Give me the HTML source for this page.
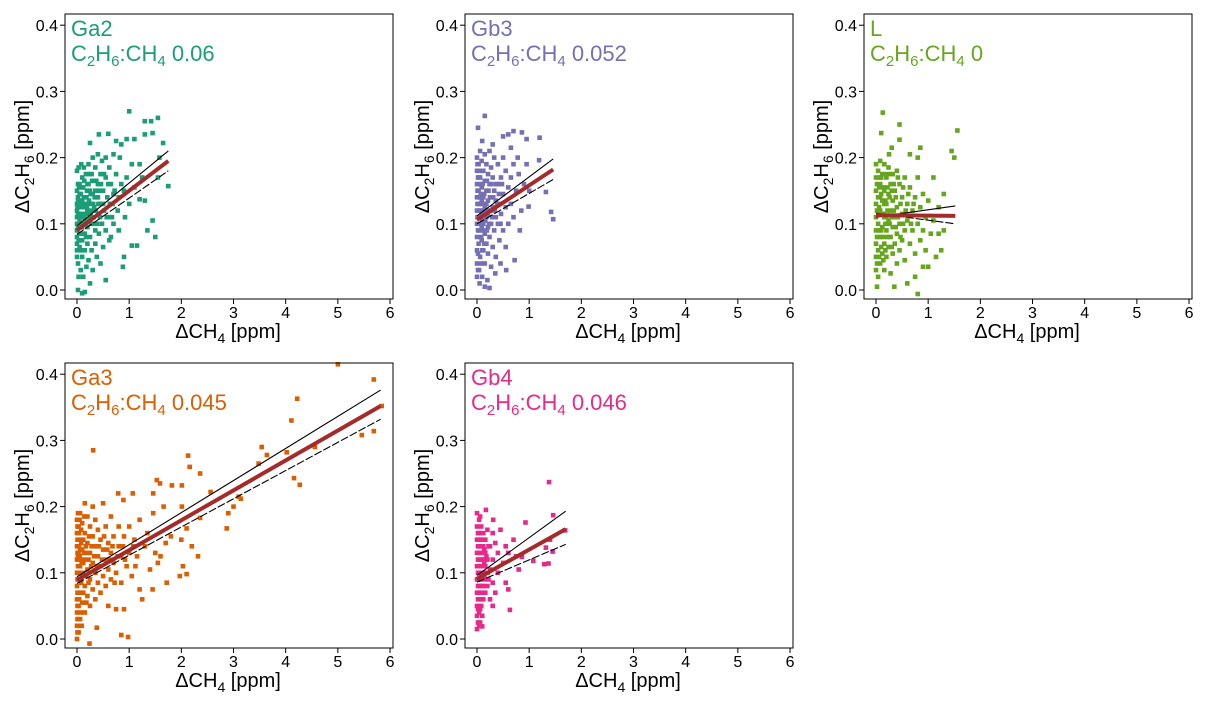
<!DOCTYPE html>
<html><head><meta charset="utf-8">
<style>
html,body{margin:0;padding:0;background:#fff;}
svg text{font-family:"Liberation Sans",Arial,sans-serif;}
</style></head>
<body>
<svg id="chart" width="1205" height="706" viewBox="0 0 1205 706" xmlns="http://www.w3.org/2000/svg"></svg>
<script>
const panelNames = ["Ga2","Gb3","L","Ga3","Gb4"];
const panelRatios = ["0.06","0.052","0","0.045","0.046"];
const panelColors = ["#1b9e77","#7570b3","#66a61e","#d95f02","#e7298a"];
const xTicks = [0,1,2,3,4,5,6];
const yTicks = [0.0,0.1,0.2,0.3,0.4];
const yTickLabels = ["0.0","0.1","0.2","0.3","0.4"];
// fit lines: [xEnd, fitStart, fitEnd, upStart, upEnd, loStart, loEnd]
const fitGa2 = [1.75,0.09,0.195,0.097,0.21,0.084,0.18];
const fitGb3 = [1.46,0.106,0.182,0.112,0.198,0.100,0.167];
const fitL = [1.52,0.113,0.112,0.110,0.127,0.116,0.100];
const fitGa3 = [5.82,0.089,0.352,0.094,0.376,0.084,0.332];
const fitGb4 = [1.7,0.091,0.166,0.096,0.193,0.086,0.143];
const ptsGa2 = [[0,0.18],[0,0.15],[0,0.13],[0,0.12],[0,0.11],[0,0.1],[0,0.09],[0,0.08],[0,0.07],[0,0.06],[0,0.05],[0.02,0.14],[0.02,0.04],[0.03,0.02],[0.03,0.185],[0.05,0.16],[0.05,0.125],[0.05,0.105],[0.05,0.085],[0.05,0.065],[0.07,0.145],[0.07,0.03],[0.08,0.19],[0.1,0.17],[0.1,0.135],[0.1,0.115],[0.1,0.095],[0.1,0.075],[0.1,0.05],[0.12,0.155],[0.12,0.02],[0.13,0.185],[0.15,0.125],[0.15,0.105],[0.15,0.085],[0.15,0.06],[0.17,0.175],[0.18,0.14],[0.18,0.035],[0.2,0.16],[0.2,0.12],[0.2,0.095],[0.2,0.07],[0.22,0.19],[0.22,0.045],[0.25,0.222],[0.25,0.15],[0.25,0.13],[0.25,0.11],[0.25,0.08],[0.28,0.175],[0.28,0.06],[0.3,0.2],[0.3,0.145],[0.3,0.1],[0.3,0.03],[0.33,0.165],[0.33,0.125],[0.35,0.185],[0.35,0.09],[0.35,0.07],[0.38,0.14],[0.38,0.05],[0.4,0.205],[0.4,0.16],[0.4,0.115],[0.42,0.235],[0.42,0.085],[0.45,0.175],[0.45,0.13],[0.45,0.04],[0.48,0.195],[0.48,0.1],[0.5,0.15],[0.5,0.065],[0.52,0.12],[0.55,0.2],[0.55,0.17],[0.55,0.09],[0.55,0.015],[0.58,0.14],[0.6,0.236],[0.6,0.11],[0.62,0.185],[0.62,0.075],[0.65,0.16],[0.65,0.08],[0.68,0.13],[0.7,0.205],[0.7,0.1],[0.72,0.15],[0.75,0.225],[0.75,0.175],[0.78,0.12],[0.8,0.09],[0.8,0.14],[0.82,0.2],[0.85,0.22],[0.85,0.16],[0.88,0.035],[0.9,0.05],[0.9,0.15],[0.92,0.11],[0.95,0.228],[0.95,0.17],[1.0,0.27],[1.0,0.13],[1.05,0.19],[1.05,0.067],[1.1,0.228],[1.1,0.155],[1.15,0.067],[1.2,0.19],[1.2,0.137],[1.25,0.17],[1.3,0.255],[1.3,0.235],[1.3,0.135],[1.35,0.09],[1.42,0.255],[1.45,0.237],[1.45,0.105],[1.5,0.08],[1.55,0.26],[1.55,0.17],[1.58,0.2],[1.65,0.222],[1.75,0.157],[0.1,-0.005],[0.15,-0.003],[0.02,0.0],[0.25,0.01],[0.03,0.1],[0.08,0.11],[0.13,0.1],[0.18,0.115],[0.23,0.135],[0.28,0.12],[0.08,0.13],[0.13,0.14],[0.35,0.15],[0.4,0.14],[0.22,0.16],[0.05,0.145],[0.03,0.075]];
const extraGa2 = [[0.02,0.115],[0.02,0.095],[0.02,0.135],[0.04,0.155],[0.06,0.115],[0.06,0.095],[0.07,0.125],[0.09,0.155],[0.11,0.125],[0.14,0.165],[0.16,0.13],[0.17,0.1],[0.19,0.15],[0.21,0.13],[0.23,0.105],[0.24,0.175],[0.26,0.145],[0.27,0.1],[0.29,0.165],[0.31,0.13],[0.32,0.11],[0.34,0.14],[0.36,0.12],[0.37,0.165],[0.39,0.1],[0.41,0.13],[0.43,0.15],[0.44,0.11],[0.46,0.16],[0.5,0.13],[0.52,0.175],[0.57,0.11],[0.6,0.16],[0.63,0.13],[0.67,0.11],[0.7,0.145],[0.02,0.16],[0.04,0.075],[0.07,0.06],[0.12,0.085],[0.17,0.08],[0.01,0.125],[0.09,0.1],[0.14,0.11],[0.19,0.125],[0.26,0.115]];
const ptsGb3 = [[0.15,0.263],[0.02,0.245],[0.7,0.24],[0.86,0.238],[1.2,0.23],[0.95,0.228],[0.5,0.232],[0.6,0.235],[0.1,0.225],[0.3,0.22],[0.65,0.215],[1.19,0.196],[1.32,0.148],[1.42,0.118],[1.46,0.107],[0.99,0.126],[0.82,0.09],[0.72,0.045],[0.56,0.03],[0.24,0.003],[0.05,0.01],[0.1,0.02],[0.15,0.005],[0.2,0.015],[0.02,0.03],[0.08,0.04],[0.0,0.06],[0.0,0.08],[0.0,0.1],[0.0,0.12],[0.0,0.14],[0.0,0.16],[0.0,0.18],[0.0,0.2],[0.03,0.07],[0.03,0.11],[0.03,0.15],[0.03,0.19],[0.06,0.05],[0.06,0.09],[0.06,0.13],[0.06,0.17],[0.06,0.21],[0.09,0.075],[0.09,0.115],[0.09,0.155],[0.09,0.195],[0.12,0.06],[0.12,0.1],[0.12,0.14],[0.12,0.18],[0.15,0.04],[0.15,0.085],[0.15,0.125],[0.15,0.165],[0.15,0.205],[0.18,0.07],[0.18,0.11],[0.18,0.15],[0.18,0.19],[0.21,0.055],[0.21,0.095],[0.21,0.135],[0.21,0.175],[0.24,0.08],[0.24,0.12],[0.24,0.16],[0.24,0.21],[0.27,0.035],[0.27,0.1],[0.27,0.14],[0.27,0.185],[0.3,0.065],[0.3,0.125],[0.3,0.17],[0.33,0.09],[0.33,0.15],[0.33,0.2],[0.36,0.11],[0.36,0.135],[0.36,0.05],[0.4,0.16],[0.4,0.1],[0.4,0.19],[0.43,0.13],[0.43,0.075],[0.46,0.17],[0.46,0.115],[0.5,0.145],[0.5,0.09],[0.5,0.2],[0.55,0.125],[0.55,0.18],[0.6,0.155],[0.6,0.1],[0.65,0.17],[0.65,0.13],[0.7,0.19],[0.7,0.11],[0.75,0.15],[0.78,0.2],[0.8,0.175],[0.85,0.12],[0.9,0.16],[0.95,0.19],[1.0,0.15],[0.55,0.065],[0.45,0.04],[0.35,0.025],[0.0,0.04],[0.0,0.02],[0.03,0.13],[0.06,0.11],[0.09,0.135],[0.12,0.12],[0.03,0.09],[0.09,0.095],[0.18,0.13],[0.21,0.115],[0.04,0.17]];
const extraGb3 = [[0.01,0.11],[0.01,0.13],[0.01,0.15],[0.02,0.09],[0.02,0.17],[0.04,0.12],[0.04,0.14],[0.05,0.1],[0.05,0.16],[0.07,0.12],[0.07,0.145],[0.08,0.08],[0.08,0.18],[0.1,0.105],[0.1,0.13],[0.11,0.16],[0.13,0.115],[0.13,0.09],[0.14,0.145],[0.16,0.105],[0.17,0.13],[0.19,0.165],[0.2,0.12],[0.22,0.15],[0.23,0.1],[0.25,0.14],[0.26,0.12],[0.28,0.16],[0.29,0.11],[0.31,0.14],[0.34,0.12],[0.37,0.16],[0.39,0.13],[0.42,0.145],[0.45,0.1],[0.48,0.16],[0.02,0.055],[0.04,0.03],[0.1,0.06],[0.14,0.07],[0.19,0.09],[0.01,0.19]];
const ptsL = [[0.13,0.268],[0.45,0.25],[0.1,0.237],[1.56,0.241],[0.45,0.227],[0.3,0.215],[1.5,0.2],[0.85,0.215],[0.65,0.205],[0.8,0.2],[0.25,0.205],[0.0,0.19],[0.0,0.17],[0.0,0.15],[0.0,0.13],[0.0,0.11],[0.0,0.09],[0.0,0.07],[0.0,0.05],[0.0,0.03],[0.8,-0.006],[0.02,0.005],[0.35,0.005],[0.6,0.01],[0.75,0.02],[1.0,0.035],[0.9,0.035],[0.04,0.18],[0.04,0.14],[0.04,0.1],[0.04,0.06],[0.08,0.195],[0.08,0.16],[0.08,0.12],[0.08,0.08],[0.08,0.04],[0.12,0.175],[0.12,0.135],[0.12,0.095],[0.12,0.055],[0.16,0.19],[0.16,0.15],[0.16,0.11],[0.16,0.07],[0.16,0.03],[0.2,0.17],[0.2,0.13],[0.2,0.09],[0.2,0.05],[0.24,0.185],[0.24,0.145],[0.24,0.105],[0.24,0.065],[0.28,0.16],[0.28,0.12],[0.28,0.08],[0.28,0.025],[0.32,0.175],[0.32,0.135],[0.32,0.095],[0.32,0.055],[0.36,0.15],[0.36,0.11],[0.36,0.07],[0.4,0.18],[0.4,0.125],[0.4,0.085],[0.4,0.04],[0.45,0.16],[0.45,0.1],[0.45,0.06],[0.5,0.14],[0.5,0.115],[0.5,0.075],[0.55,0.17],[0.55,0.09],[0.55,0.045],[0.6,0.13],[0.6,0.105],[0.65,0.155],[0.65,0.07],[0.7,0.12],[0.7,0.09],[0.75,0.14],[0.75,0.055],[0.8,0.17],[0.8,0.1],[0.85,0.125],[0.85,0.075],[0.9,0.145],[0.9,0.09],[0.95,0.11],[0.95,0.06],[1.0,0.135],[1.05,0.085],[1.1,0.17],[1.1,0.105],[1.15,0.05],[1.2,0.125],[1.2,0.085],[1.25,0.06],[1.3,0.145],[1.3,0.09],[1.45,0.21],[0.06,0.125],[0.1,0.145],[0.14,0.115],[0.18,0.1],[0.22,0.12],[0.26,0.14],[0.1,0.09],[0.14,0.08],[0.06,0.155]];
const extraL = [[0.02,0.16],[0.02,0.12],[0.02,0.08],[0.06,0.17],[0.06,0.09],[0.06,0.05],[0.1,0.115],[0.1,0.065],[0.1,0.17],[0.14,0.155],[0.14,0.045],[0.18,0.135],[0.18,0.06],[0.18,0.175],[0.22,0.155],[0.22,0.08],[0.26,0.1],[0.26,0.175],[0.3,0.15],[0.3,0.11],[0.3,0.065],[0.34,0.12],[0.34,0.16],[0.38,0.095],[0.38,0.14],[0.42,0.11],[0.42,0.17],[0.47,0.13],[0.47,0.08],[0.52,0.155],[0.52,0.1],[0.57,0.12],[0.62,0.145],[0.67,0.1],[0.72,0.13],[0.04,0.12],[0.08,0.14],[0.12,0.115],[0.16,0.13],[0.2,0.11],[0.02,0.04],[0.04,0.02]];
const ptsGa3 = [[5.0,0.415],[5.69,0.392],[4.22,0.363],[4.11,0.33],[5.46,0.308],[5.69,0.314],[5.84,0.352],[0.31,0.285],[3.54,0.29],[3.64,0.278],[3.48,0.265],[4.02,0.282],[4.56,0.29],[4.16,0.243],[4.27,0.233],[2.13,0.277],[2.16,0.26],[2.36,0.25],[1.53,0.24],[1.59,0.235],[1.82,0.232],[2.01,0.232],[2.56,0.222],[0.79,0.22],[1.07,0.22],[1.46,0.22],[0.89,0.21],[1.66,0.2],[2.01,0.2],[1.46,0.19],[2.9,0.19],[3.0,0.2],[2.87,0.167],[2.1,0.167],[2.0,0.15],[2.2,0.14],[2.32,0.125],[2.03,0.11],[1.97,0.095],[2.1,0.098],[1.72,0.085],[3.1,0.215],[3.14,0.212],[2.36,0.183],[0.98,0.003],[0.85,0.006],[0.24,-0.007],[0.38,0.017],[0,0.0],[0,0.02],[0,0.04],[0,0.06],[0,0.08],[0,0.1],[0,0.12],[0,0.14],[0,0.16],[0,0.18],[0.03,0.01],[0.03,0.05],[0.03,0.09],[0.03,0.13],[0.03,0.17],[0.06,0.03],[0.06,0.07],[0.06,0.11],[0.06,0.15],[0.06,0.19],[0.1,0.055],[0.1,0.095],[0.1,0.135],[0.1,0.175],[0.15,0.04],[0.15,0.08],[0.15,0.12],[0.15,0.16],[0.15,0.205],[0.2,0.065],[0.2,0.105],[0.2,0.145],[0.2,0.185],[0.25,0.05],[0.25,0.09],[0.25,0.13],[0.25,0.17],[0.3,0.075],[0.3,0.115],[0.3,0.155],[0.3,0.2],[0.35,0.06],[0.35,0.1],[0.35,0.14],[0.35,0.18],[0.4,0.085],[0.4,0.125],[0.4,0.165],[0.45,0.07],[0.45,0.11],[0.45,0.15],[0.5,0.095],[0.5,0.135],[0.5,0.205],[0.55,0.08],[0.55,0.12],[0.55,0.17],[0.6,0.105],[0.6,0.145],[0.6,0.05],[0.65,0.09],[0.65,0.13],[0.65,0.185],[0.7,0.115],[0.7,0.155],[0.75,0.045],[0.75,0.1],[0.8,0.14],[0.8,0.17],[0.85,0.085],[0.85,0.125],[0.9,0.045],[0.9,0.155],[0.95,0.11],[1.0,0.13],[1.0,0.17],[1.05,0.095],[1.1,0.15],[1.15,0.125],[1.2,0.075],[1.2,0.18],[1.25,0.06],[1.3,0.14],[1.35,0.16],[1.4,0.105],[1.45,0.075],[1.5,0.13],[1.55,0.115],[1.6,0.125],[1.7,0.145],[1.8,0.155],[0.02,0.11],[0.05,0.125],[0.08,0.085],[0.12,0.115],[0.18,0.13],[0.22,0.12],[0.12,0.15],[0.08,0.145]];
const extraGa3 = [[0.01,0.01],[0.01,0.03],[0.01,0.05],[0.01,0.07],[0.01,0.09],[0.01,0.13],[0.01,0.15],[0.01,0.17],[0.02,0.19],[0.04,0.02],[0.04,0.06],[0.04,0.1],[0.04,0.14],[0.04,0.16],[0.05,0.18],[0.07,0.04],[0.07,0.09],[0.07,0.12],[0.08,0.165],[0.09,0.02],[0.12,0.07],[0.12,0.1],[0.13,0.13],[0.14,0.185],[0.17,0.095],[0.17,0.14],[0.18,0.055],[0.22,0.085],[0.23,0.155],[0.27,0.11],[0.28,0.14],[0.33,0.125],[0.38,0.11],[0.42,0.14],[0.48,0.12],[0.52,0.155],[0.58,0.135],[0.62,0.12],[0.68,0.14],[0.72,0.085],[0.78,0.125],[0.88,0.14],[0.92,0.12],[1.08,0.14],[1.12,0.11],[0.02,0.125],[0.06,0.135],[0.09,0.115]];
const ptsGb4 = [[1.38,0.237],[1.46,0.187],[1.69,0.164],[0.93,0.176],[1.4,0.15],[1.32,0.138],[1.45,0.132],[1.08,0.118],[1.37,0.114],[1.29,0.113],[0.86,0.124],[0.63,0.044],[0.17,0.195],[0.31,0.18],[0.1,0.019],[0.06,0.025],[0,0.19],[0,0.17],[0,0.15],[0,0.13],[0,0.11],[0,0.09],[0,0.07],[0,0.05],[0,0.035],[0.04,0.18],[0.04,0.16],[0.04,0.14],[0.04,0.12],[0.04,0.1],[0.04,0.08],[0.04,0.06],[0.04,0.04],[0.08,0.17],[0.08,0.15],[0.08,0.13],[0.08,0.11],[0.08,0.09],[0.08,0.07],[0.08,0.05],[0.12,0.16],[0.12,0.14],[0.12,0.12],[0.12,0.1],[0.12,0.08],[0.12,0.06],[0.16,0.15],[0.16,0.13],[0.16,0.11],[0.16,0.09],[0.16,0.07],[0.2,0.165],[0.2,0.12],[0.2,0.1],[0.2,0.08],[0.25,0.14],[0.25,0.105],[0.3,0.16],[0.3,0.12],[0.3,0.085],[0.35,0.145],[0.35,0.07],[0.4,0.13],[0.4,0.1],[0.45,0.165],[0.5,0.115],[0.55,0.14],[0.55,0.085],[0.6,0.13],[0.6,0.075],[0.7,0.15],[0.75,0.125],[0.8,0.105],[0.25,0.06],[0.3,0.05],[0.02,0.025],[0.06,0.185],[0.1,0.035]];
const extraGb4 = [[0.02,0.1],[0.02,0.12],[0.02,0.14],[0.02,0.16],[0.02,0.08],[0.02,0.06],[0.06,0.09],[0.06,0.11],[0.06,0.13],[0.06,0.15],[0.06,0.07],[0.1,0.1],[0.1,0.12],[0.1,0.14],[0.1,0.08],[0.1,0.06],[0.14,0.095],[0.14,0.115],[0.14,0.135],[0.18,0.1],[0.18,0.125],[0.22,0.09],[0.22,0.14],[0.02,0.045],[0.06,0.045],[0.0,0.015],[0.04,0.02]];
const panelPoints = [ptsGa2.concat(extraGa2), ptsGb3.concat(extraGb3), ptsL.concat(extraL), ptsGa3.concat(extraGa3), ptsGb4.concat(extraGb4)];
const panelFits = [fitGa2, fitGb3, fitL, fitGa3, fitGb4];

const NS = "http://www.w3.org/2000/svg";
const svg = document.getElementById("chart");
const boxLefts = [65,465,864,65,465];
const boxTops = [14,14,14,363,363];
const BW = 328, BH = 285;
function mk(tag, attrs, parent){ const e=document.createElementNS(NS,tag); for(const k in attrs) e.setAttribute(k,attrs[k]); (parent||svg).appendChild(e); return e; }

panelNames.forEach((nm,i)=>{
  const L = boxLefts[i], T = boxTops[i], B = T+BH;
  const sx = v => L + 12 + v*52.17;
  const sy = v => B - 9 + (-v)*662;
  const g = mk("g",{});
  
  
  const color = panelColors[i];
  panelPoints[i].forEach(p=>{
    const r = mk("rect",{x:(sx(p[0])-2.3).toFixed(1),y:(sy(p[1])-2.3).toFixed(1),width:4.6,height:4.6,fill:color},g);
    
    
  });
  const f = panelFits[i];
  const up = mk("line",{x1:sx(0),y1:sy(f[3]),x2:sx(f[0]),y2:sy(f[4]),stroke:"#000","stroke-width":1.1},g);
  
  
  const lo = mk("line",{x1:sx(0),y1:sy(f[5]),x2:sx(f[0]),y2:sy(f[6]),stroke:"#000","stroke-width":1.1,"stroke-dasharray":"8 2"},g);
  
  
  const fit = mk("line",{x1:sx(0),y1:sy(f[1]),x2:sx(f[0]),y2:sy(f[2]),stroke:"#a52a2a","stroke-width":4},g);
  
  
  const box = mk("rect",{x:L,y:T,width:BW,height:BH,fill:"none",stroke:"#000","stroke-width":1},g);
  
  
  xTicks.forEach(t=>{
    mk("line",{x1:sx(t),y1:B,x2:sx(t),y2:B+5,stroke:"#000"},g);
    const tx = mk("text",{x:sx(t),y:B+19,"text-anchor":"middle","font-size":16,fill:"#000"},g);
    tx.textContent = t;
    
    
  });
  yTicks.forEach((t,j)=>{
    mk("line",{x1:L-5,y1:sy(t),x2:L,y2:sy(t),stroke:"#000"},g);
    const ty = mk("text",{x:L-7,y:sy(t)+6,"text-anchor":"end","font-size":16,fill:"#000"},g);
    ty.textContent = yTickLabels[j];
    
    
  });
  const xt = mk("text",{x:L+163,y:B+39,"text-anchor":"middle","font-size":20,fill:"#000"},g);
  xt.innerHTML = 'ΔCH<tspan font-size="14" dy="5">4</tspan><tspan dy="-5"> [ppm]</tspan>';
  
  
  const yt = mk("text",{x:0,y:0,"text-anchor":"middle","font-size":20,fill:"#000",transform:`translate(${L-36},${T+BH/2}) rotate(-90)`},g);
  yt.innerHTML = 'ΔC<tspan font-size="14" dy="5">2</tspan><tspan dy="-5">H</tspan><tspan font-size="14" dy="5">6</tspan><tspan dy="-5"> [ppm]</tspan>';
  
  
  const t1 = mk("text",{x:L+6,y:T+22,"font-size":22,fill:color},g);
  t1.textContent = nm;
  
  
  const t2 = mk("text",{x:L+6,y:T+47,"font-size":22,fill:color},g);
  t2.innerHTML = 'C<tspan font-size="15" dy="5">2</tspan><tspan dy="-5">H</tspan><tspan font-size="15" dy="5">6</tspan><tspan dy="-5">:CH</tspan><tspan font-size="15" dy="5">4</tspan><tspan dy="-5"> '+panelRatios[i]+'</tspan>';
  
  
});
</script>
</body></html>
